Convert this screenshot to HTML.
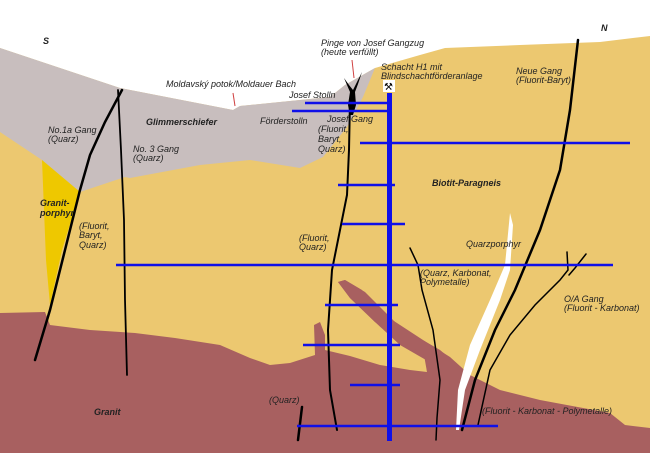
<!DOCTYPE html>
<html><head><meta charset="utf-8"><style>
html,body{margin:0;padding:0;background:#fff}
svg{display:block}
text{font-family:"Liberation Sans","DejaVu Sans",sans-serif;font-size:9px;fill:#222;font-style:italic}
.b{font-weight:bold}
</style></head><body>
<svg width="650" height="453" viewBox="0 0 650 453" xmlns="http://www.w3.org/2000/svg">
<rect width="650" height="453" fill="#fff"/>
<path d="M0,132 L0,48 L120,88 L233,110 L240,106 L300,100 L330,97 L345,85 L375,68 L420,55 L445,48 L520,45 L600,42 L650,36 L650,453 L0,453 Z" fill="#ecc870"/>
<path d="M0,48 L120,88 L233,110 L240,106 L300,100 L330,97 L345,85 L375,68 L363,97 L347,127 L323,157 L300,168 L250,160 L200,165 L130,178 L125,177 L80,192 L42,160 L0,132 Z" fill="#c8bebe"/>
<path d="M42,160 L80,192 L62,250 L50,305 L46,260 Z" fill="#eec800"/>
<path d="M0,313 L45,312 L50,325 L90,330 L135,333 L175,338 L220,345 L250,358 L270,365 L290,363 L315,355 L314,325 L320,322 L325,335 L325,350 L350,356 L380,365 L410,370 L427,372 L426,360 L400,345 L375,322 L350,298 L338,282 L345,280 L365,292 L400,327 L440,350 L470,375 L500,390 L540,400 L610,413 L625,425 L650,428 L650,453 L0,453 Z" fill="#a86060"/>
<path d="M338,282 L345,280 L362,290 L372,307 L397,323 L423,340 L450,357 L470,375 L430,372 L427,372 L424,355 L400,340 L375,322 L350,298 Z" fill="#a86060"/>
<path d="M510,213 L513,225 L510,270 L500,300 L480,350 L465,390 L459,430 L456,430 L458,390 L470,345 L490,300 L505,265 Z" fill="#fff"/>
<g fill="none" stroke="#000" stroke-linecap="round">
<path d="M35,360 L50,310 L65,250 L80,190 L90,155 L105,122 L122,90" stroke-width="2.5"/>
<path d="M118,90 L121,150 L124,220 L125,300 L127,375" stroke-width="1.8"/>
<path d="M350,100 L349,150 L347,195 L340,230 L332,270 L328,330 L330,390 L337,430" stroke-width="2"/>
<path d="M578,40 L570,110 L560,170 L540,230 L515,290 L495,330 L475,380 L462,430" stroke-width="2.5"/>
<path d="M410,248 L418,265 L422,290 L433,330 L440,380 L437,418 L436,440" stroke-width="1.5"/>
<path d="M567,252 L568,270 L560,280 L535,305 L510,335 L490,370 L478,425" stroke-width="1.5"/>
<path d="M586,254 L575,268 L569,275" stroke-width="1.5"/>
<path d="M302,407 L298,440" stroke-width="2.5"/>
</g>
<path d="M344,78 L349,85 L353,90 L356,84 L362,72 L358,84 L355,92 L356,105 L353,115 L350,115 L348,105 L350,92 Z" fill="#000"/>
<g stroke="#1010e8" stroke-width="2.5" fill="none">
<line x1="305" y1="103" x2="390" y2="103"/>
<line x1="292" y1="111" x2="390" y2="111"/>
<line x1="360" y1="143" x2="630" y2="143"/>
<line x1="338" y1="185" x2="395" y2="185"/>
<line x1="342" y1="224" x2="405" y2="224"/>
<line x1="116" y1="265" x2="613" y2="265"/>
<line x1="325" y1="305" x2="398" y2="305"/>
<line x1="303" y1="345" x2="400" y2="345"/>
<line x1="350" y1="385" x2="400" y2="385"/>
<line x1="297" y1="426" x2="498" y2="426"/>
</g>
<rect x="387" y="93" width="5" height="348" fill="#1010e8"/>
<rect x="383" y="80" width="12" height="12" fill="#fff"/>
<text x="384" y="90" style="font-style:normal;font-size:10px;fill:#000;font-family:'DejaVu Sans',sans-serif">⚒</text>
<line x1="233" y1="93" x2="235" y2="106" stroke="#d04040" stroke-width="1"/>
<line x1="352" y1="60" x2="354" y2="78" stroke="#d04040" stroke-width="1"/>
<text x="43" y="44" class="b">S</text>
<text x="601" y="31" class="b">N</text>
<text x="321" y="46">Pinge von Josef Gangzug</text>
<text x="321" y="55">(heute verfüllt)</text>
<text x="381" y="70">Schacht H1 mit</text>
<text x="381" y="79">Blindschachtförderanlage</text>
<text x="516" y="74">Neue Gang</text>
<text x="516" y="83">(Fluorit-Baryt)</text>
<text x="166" y="87">Moldavský potok/Moldauer Bach</text>
<text x="289" y="98">Josef Stolln</text>
<text x="146" y="125" class="b">Glimmerschiefer</text>
<text x="260" y="124">Förderstolln</text>
<text x="327" y="122">Josef  Gang</text>
<text x="318" y="132">(Fluorit,</text>
<text x="318" y="142">Baryt,</text>
<text x="318" y="152">Quarz)</text>
<text x="48" y="133">No.1a Gang</text>
<text x="48" y="142">(Quarz)</text>
<text x="133" y="152">No. 3 Gang</text>
<text x="133" y="161">(Quarz)</text>
<text x="432" y="186" class="b">Biotit-Paragneis</text>
<text x="40" y="206" class="b">Granit-</text>
<text x="40" y="216" class="b">porphyr</text>
<text x="79" y="229">(Fluorit,</text>
<text x="79" y="238">Baryt,</text>
<text x="79" y="248">Quarz)</text>
<text x="299" y="241">(Fluorit,</text>
<text x="299" y="250">Quarz)</text>
<text x="466" y="247">Quarzporphyr</text>
<text x="420" y="276">(Quarz, Karbonat,</text>
<text x="420" y="285">Polymetalle)</text>
<text x="564" y="302">O/A Gang</text>
<text x="564" y="311">(Fluorit - Karbonat)</text>
<text x="94" y="415" class="b">Granit</text>
<text x="269" y="403">(Quarz)</text>
<text x="482" y="414">(Fluorit - Karbonat - Polymetalle)</text>
</svg>
</body></html>
